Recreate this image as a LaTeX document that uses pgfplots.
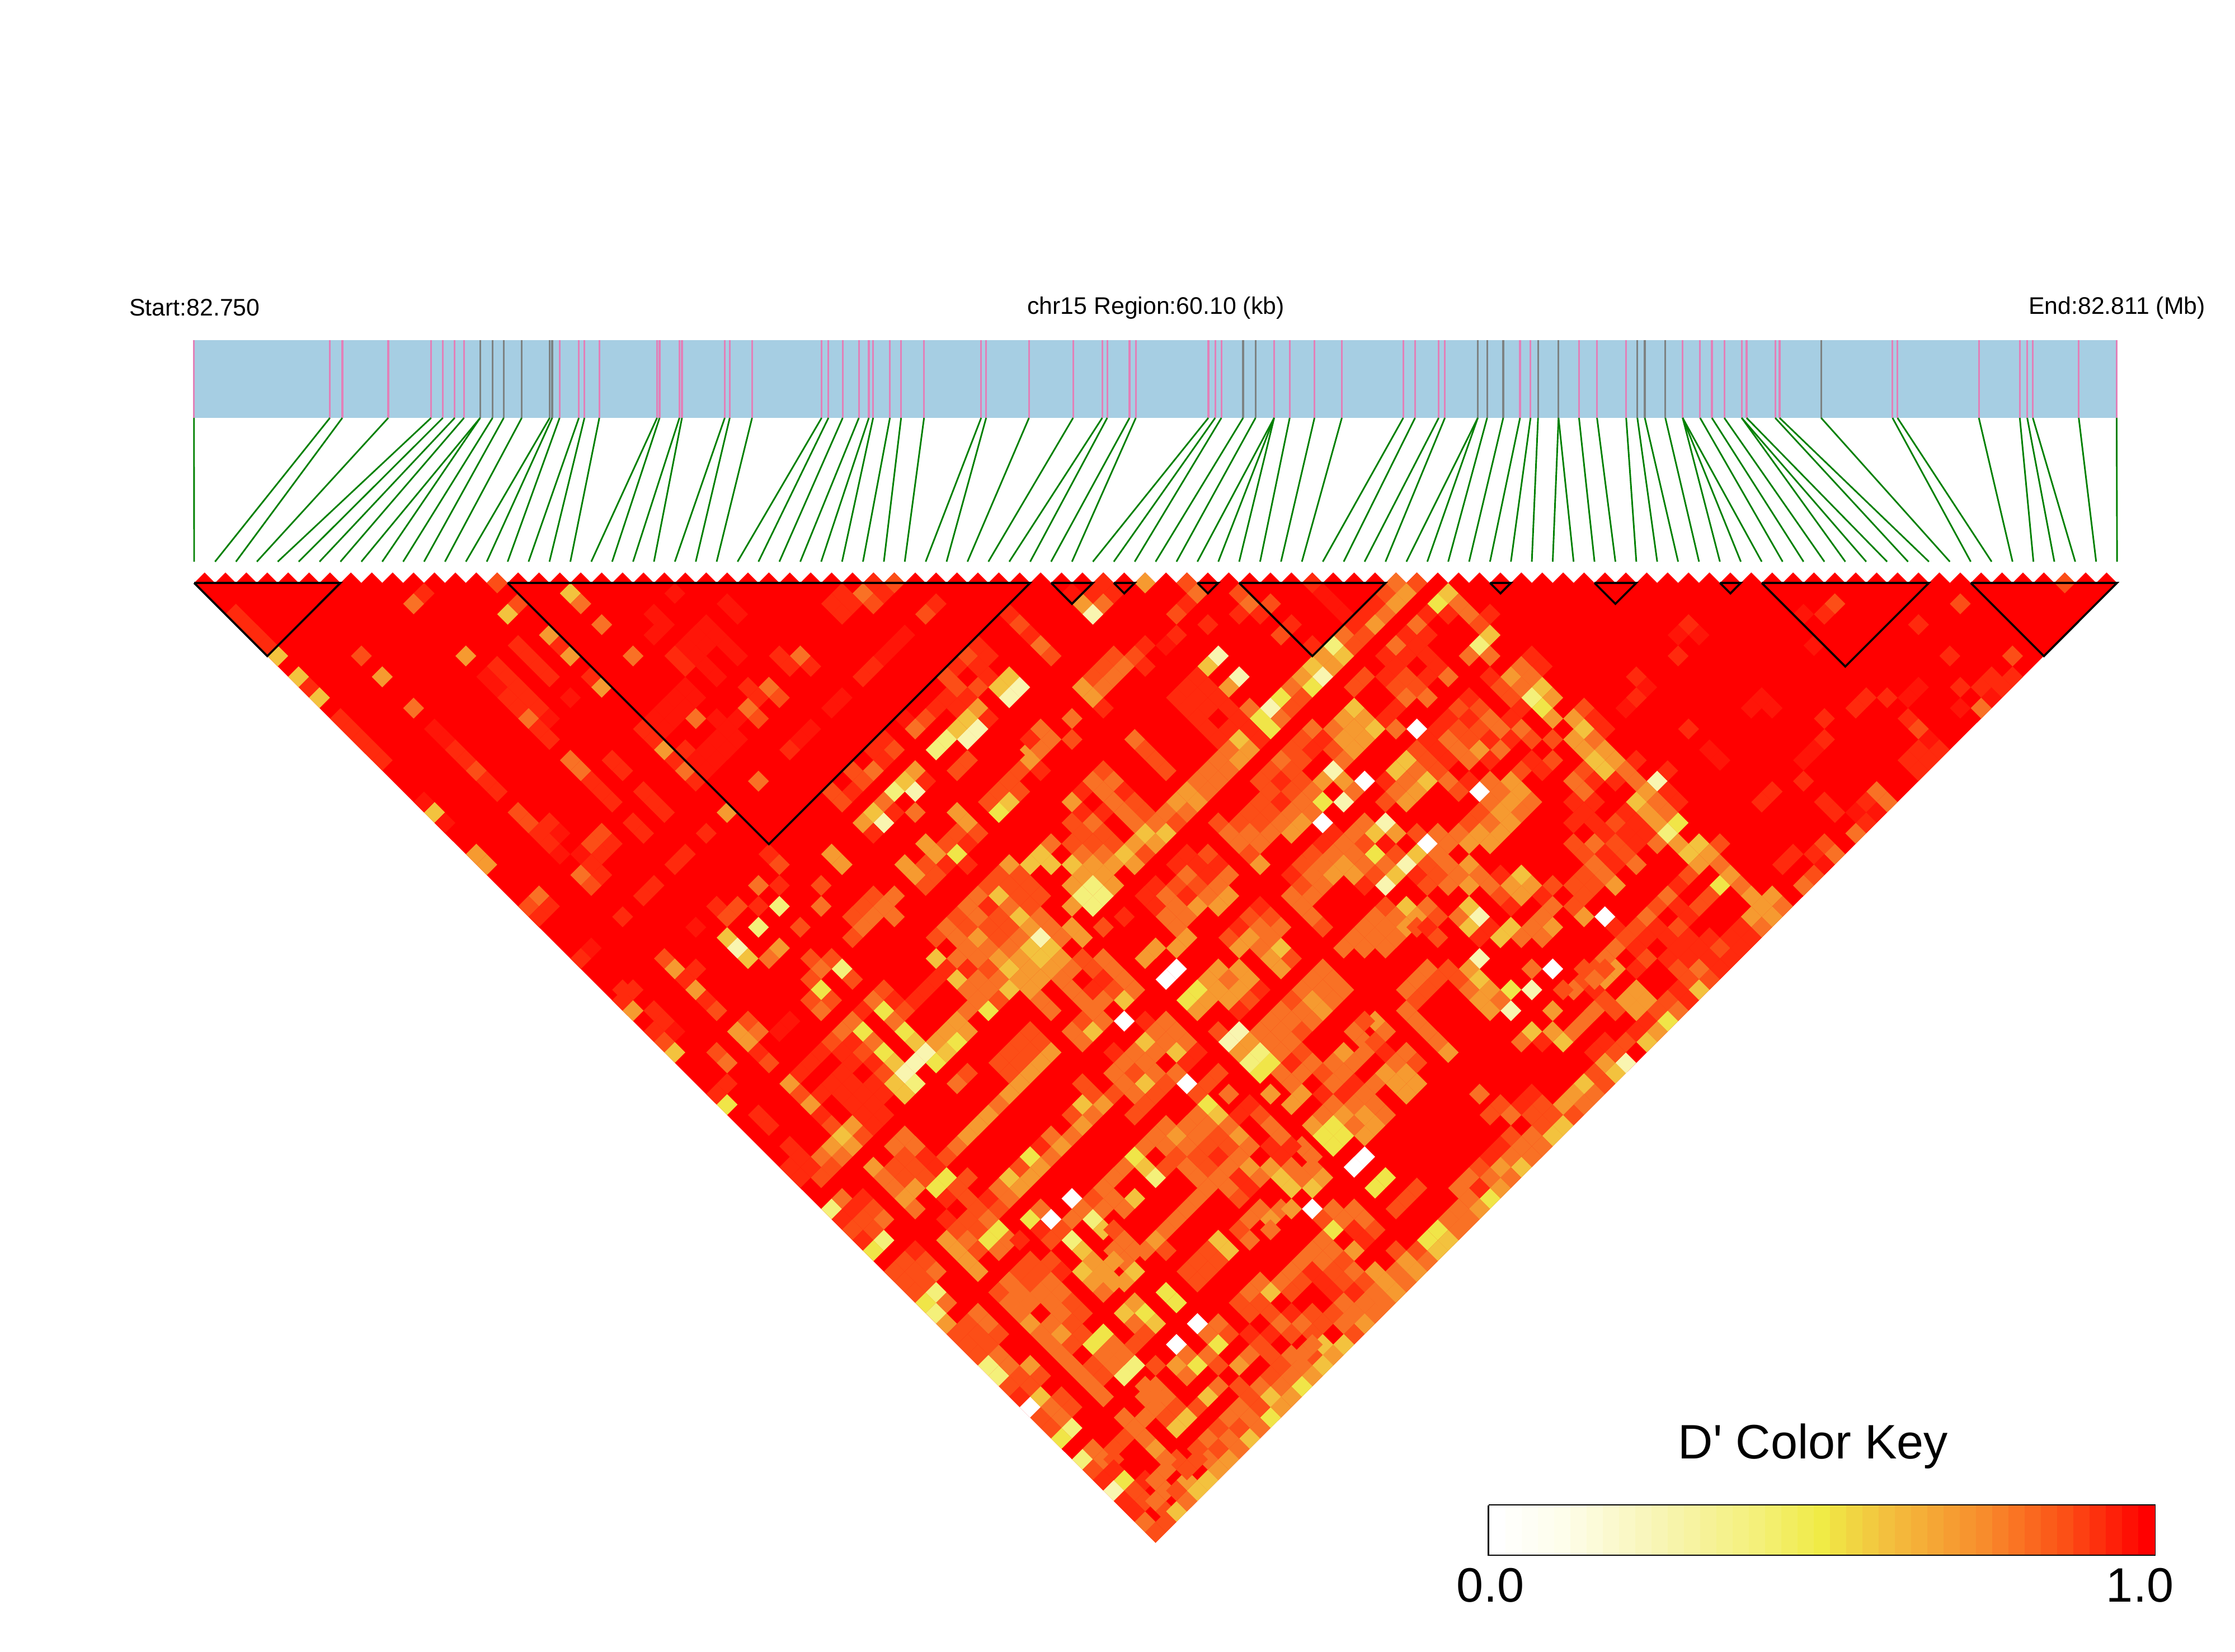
\documentclass[border=0pt]{standalone}
\usepackage{fontspec}
\setmainfont{Liberation Sans}
\usepackage{pgfplots}
\usepackage{pgfplotstable}
\pgfplotsset{compat=1.18}
\pgfdeclareplotmark{ldcell}{\pgfpathmoveto{\pgfqpoint{4.67pt}{0pt}}\pgfpathlineto{\pgfqpoint{0pt}{4.67pt}}\pgfpathlineto{\pgfqpoint{-4.67pt}{0pt}}\pgfpathlineto{\pgfqpoint{0pt}{-4.67pt}}\pgfpathclose\pgfusepathqfill}
\pgfdeclareplotmark{keycell}{\pgfpathrectangle{\pgfqpoint{-3.68pt}{-10.9pt}}{\pgfqpoint{7.36pt}{21.8pt}}\pgfusepathqfill}
\pgfplotstableread{
t k
346.7 0
589.7 1
611.9 2
694 3
770.6 4
791.7 5
812.8 6
829.4 7
858.3 8
858.3 9
880.4 10
900.4 11
932.6 12
982.6 13
987 14
1000.3 15
1034.7 16
1044.7 17
1071.3 18
1174.5 19
1179 20
1214.5 21
1219 22
1295.5 23
1304.4 24
1344.3 25
1468.6 26
1480.8 27
1506.3 28
1535.2 29
1553 30
1560.7 31
1590.7 32
1610.7 33
1651.7 34
1753.8 35
1762.7 36
1839.3 37
1918.1 38
1970.2 39
1979.1 40
2019 41
2030.2 42
2159.9 43
2172.1 44
2183.2 45
2222 46
2244.2 47
2277.5 48
2277.5 49
2277.5 50
2305.3 51
2349.6 52
2398.5 53
2508.3 54
2529.4 55
2571.6 56
2582.7 57
2641.5 58
2641.5 59
2658.2 60
2687 61
2717 62
2735.8 63
2749.2 64
2785.8 65
2785.8 66
2822.4 67
2854.6 68
2906.7 69
2926.7 70
2940 71
2976.7 72
3007.7 73
3007.7 74
3007.7 75
3038.8 76
3059.9 77
3082.1 78
3113.2 79
3113.2 80
3122 81
3173.1 82
3180.9 83
3255.2 84
3382.8 85
3391.7 86
3537.1 87
3610.3 88
3623.6 89
3633.6 90
3715.7 91
3783.4 92
}\snps
\pgfplotstableread{
t d
858.3 0
880.4 0
900.4 0
932.6 0
982.6 0
987 0
2222 0
2244.2 0
2641.5 0
2658.2 0
2687 0
2749.2 0
2785.8 0
2926.7 0
2940 0
2976.7 0
3255.2 0
}\greysnps
\pgfplotstableread{
U V c
29 0 2
65 0 1
67 0 2
91 0 4
95 0 2
107 0 1
115 0 3
117 0 2
179 0 2
22 1 1
21 2 3
31 2 2
30 3 5
36 1 5
37 2 3
39 4 3
34 5 4
35 6 1
36 7 4
31 6 1
32 7 1
33 8 1
34 9 1
4 3 1
5 4 1
6 5 1
7 6 1
8 7 5
10 9 5
11 10 1
12 11 5
16 7 2
18 9 4
26 7 4
21 12 3
14 13 1
15 14 1
16 15 1
17 16 1
18 17 1
23 22 5
24 23 0
22 21 0
27 26 4
28 27 4
29 8 1
28 9 0
30 9 1
29 10 0
31 10 1
30 11 1
32 11 1
31 12 1
33 12 1
32 13 3
34 13 0
33 14 1
34 15 1
36 11 0
38 9 1
39 10 4
23 14 0
24 15 0
25 16 1
26 17 1
27 18 2
28 19 1
29 20 1
31 22 2
32 23 2
34 23 1
33 24 1
35 24 0
34 25 1
35 26 0
36 17 3
37 18 3
38 19 1
39 20 1
40 21 1
40 17 1
41 18 1
39 24 2
38 25 2
40 25 1
39 26 1
37 26 0
38 27 1
39 28 1
37 28 3
38 29 2
33 30 3
32 31 2
34 31 1
33 32 1
41 32 1
38 35 0
37 36 1
41 39 1
62 1 1
64 1 3
66 1 1
61 2 1
63 2 1
65 2 2
62 3 1
71 2 1
70 3 2
46 1 0
51 2 0
52 3 0
44 3 0
45 4 0
44 5 0
49 4 0
48 5 0
50 5 0
47 6 0
49 6 0
51 6 0
46 7 1
48 7 0
52 7 0
47 8 1
49 8 0
50 9 0
47 10 0
46 11 0
48 11 0
45 12 0
47 12 0
44 13 0
46 13 0
45 14 0
42 7 3
58 7 3
56 7 1
57 8 1
59 8 1
68 5 0
67 6 0
66 7 0
65 8 1
64 9 1
55 10 3
53 10 1
54 11 1
56 11 2
53 12 3
54 13 2
62 11 0
61 12 0
48 13 3
50 13 0
52 13 0
43 14 1
44 15 1
45 16 4
47 18 3
46 17 1
48 19 1
51 14 0
50 15 0
52 15 0
47 16 1
49 16 0
51 16 0
48 17 0
50 17 0
49 18 0
59 14 0
58 15 0
57 16 1
54 19 3
51 22 4
78 3 1
79 4 2
80 5 1
81 6 3
82 7 2
75 6 1
74 7 2
76 7 1
73 8 1
75 8 1
72 9 2
76 9 1
73 10 2
75 10 2
78 9 5
77 10 5
79 10 8
78 11 8
72 11 1
71 12 1
74 11 1
75 12 4
73 12 1
74 13 5
76 13 1
70 13 2
68 13 0
69 14 3
73 14 5
75 14 8
72 15 7
74 15 8
71 16 7
66 15 1
67 16 2
65 16 1
66 17 1
65 18 3
63 18 2
64 19 2
69 18 4
68 19 5
70 19 1
67 20 7
69 20 8
61 20 2
62 21 2
63 20 1
74 17 2
73 18 2
66 21 3
65 22 5
64 23 4
66 23 8
67 22 1
69 22 3
65 24 1
80 16 4
81 14 3
80 15 1
82 15 3
81 16 3
80 17 4
81 18 1
79 18 2
78 19 2
77 20 2
79 20 2
78 21 5
77 22 6
76 21 2
73 22 4
74 23 4
73 24 2
75 24 2
74 25 1
72 25 2
70 25 4
71 26 4
73 26 6
72 27 1
74 27 1
68 27 4
69 28 4
70 27 2
71 28 2
70 29 2
82 25 3
81 26 5
80 27 5
82 27 5
78 27 4
77 28 2
79 28 2
78 29 2
67 30 3
65 30 2
66 31 3
67 32 3
64 31 2
65 32 3
63 32 2
64 33 3
63 34 2
61 26 4
62 27 4
55 26 1
56 27 2
54 29 3
60 29 2
56 29 1
60 31 3
56 31 7
54 33 7
58 33 2
52 31 2
51 32 2
54 31 1
50 31 1
51 34 5
52 35 8
56 35 4
43 20 1
44 21 1
45 22 1
42 23 1
43 24 1
49 24 1
47 26 1
46 27 1
44 29 1
43 30 1
48 33 0
86 1 1
85 2 4
87 2 3
86 3 8
84 1 0
88 1 1
87 0 1
95 2 1
96 1 3
94 3 2
97 4 1
94 5 1
93 6 0
91 6 1
90 7 2
91 8 1
88 7 2
87 8 2
89 8 3
88 9 3
86 9 2
85 10 4
87 10 3
86 11 4
87 12 1
98 7 8
97 8 5
100 9 8
99 10 4
96 9 1
95 10 1
97 10 1
94 11 1
96 11 1
98 11 1
95 12 1
97 12 1
99 12 1
96 13 1
100 13 1
97 14 1
99 14 1
98 15 1
100 1 2
101 2 3
103 2 2
100 3 1
102 3 1
105 4 1
104 5 2
107 6 1
108 1 0
109 2 0
110 3 0
114 1 2
116 1 4
115 2 4
114 3 3
113 2 1
112 3 1
113 4 4
111 4 1
112 5 2
110 5 3
109 6 7
111 6 2
110 7 5
108 7 4
107 8 5
109 8 4
108 9 8
106 9 4
105 10 3
107 10 6
106 11 2
104 11 6
103 12 8
105 12 2
101 12 3
102 13 6
104 13 3
103 14 6
102 15 1
101 14 1
100 15 5
101 16 4
99 16 3
98 17 3
100 17 4
97 18 3
99 18 3
96 19 3
98 19 3
95 20 4
97 20 3
94 21 4
96 21 4
93 22 3
95 22 3
92 23 3
94 23 2
91 24 5
93 24 5
92 25 4
90 25 4
89 26 5
91 26 2
90 27 4
120 1 5
119 2 6
121 2 3
118 3 1
120 3 1
122 3 3
124 3 1
117 4 3
123 4 2
124 5 5
123 6 7
122 7 3
124 7 3
116 5 1
115 6 3
116 7 1
114 7 1
115 8 1
118 5 1
117 6 1
118 7 1
119 8 1
120 9 3
118 9 1
116 9 2
114 9 1
115 10 2
117 10 2
116 11 3
118 11 3
112 9 2
111 10 2
115 12 1
114 13 1
111 12 5
110 13 4
112 13 4
109 14 3
111 14 4
113 14 5
110 15 4
112 15 4
115 14 3
117 14 9
107 14 3
106 15 2
108 15 1
105 16 2
107 16 1
109 16 2
111 16 4
104 17 3
106 17 2
110 17 3
103 18 2
105 18 2
109 18 8
102 19 2
104 19 1
106 19 2
108 19 4
110 19 4
112 19 9
103 20 2
105 20 2
107 20 3
111 20 3
102 21 2
104 21 1
106 21 3
108 21 6
110 21 8
101 22 2
103 22 2
105 22 3
107 22 3
100 23 2
102 23 2
104 23 3
106 23 4
108 23 9
98 23 2
99 24 3
101 24 3
103 24 3
105 24 4
100 25 3
102 25 3
101 26 2
102 27 4
116 17 5
115 18 5
117 18 3
116 19 3
118 19 5
114 19 1
117 20 4
115 20 3
116 21 4
114 21 2
120 19 3
119 18 2
118 17 2
117 16 2
119 16 1
118 15 1
120 15 3
121 16 3
120 17 1
122 17 3
123 16 4
121 14 2
122 15 2
124 15 1
120 13 1
119 14 1
122 13 1
123 14 2
125 14 3
124 17 1
126 15 1
125 16 3
127 14 3
126 13 1
124 13 3
123 12 2
122 11 1
121 12 2
125 10 2
126 11 2
124 9 1
127 12 1
126 9 4
127 8 3
128 7 1
129 8 1
128 9 3
127 10 3
129 10 5
128 11 7
130 11 4
129 12 6
130 13 4
123 20 9
122 19 1
121 20 2
125 20 3
124 19 3
126 19 4
127 18 2
129 18 1
128 17 1
130 17 2
128 15 2
130 15 2
127 20 4
128 21 3
126 21 4
124 21 3
125 22 4
123 22 2
127 22 3
122 23 2
124 23 3
126 23 4
121 24 3
123 24 4
125 24 4
122 25 4
124 25 4
120 25 3
119 24 3
117 24 2
118 25 9
117 26 5
116 27 8
115 28 5
114 29 8
119 26 3
118 27 2
120 27 3
122 27 4
119 28 2
117 28 1
121 28 3
118 29 2
120 29 3
113 26 6
114 27 3
112 27 3
111 28 4
112 29 1
113 28 2
115 26 2
114 25 0
113 24 5
114 23 8
115 24 4
112 23 3
112 25 2
111 24 3
110 25 3
109 24 1
108 26 3
110 27 4
109 26 3
111 26 3
107 27 3
109 28 4
105 28 1
106 27 2
107 26 2
108 25 1
106 29 2
107 28 3
108 27 3
105 30 3
106 31 3
107 32 3
108 33 2
107 30 3
108 29 3
114 31 2
116 31 5
115 32 3
117 32 4
116 33 4
114 33 3
113 32 3
112 33 3
111 34 3
110 35 3
113 34 3
115 34 3
114 35 3
112 35 3
118 31 3
119 32 2
117 33 2
118 33 1
119 34 2
121 32 3
122 31 5
123 32 8
122 33 5
124 33 1
123 34 1
125 34 5
126 33 5
127 34 3
128 33 3
126 31 1
125 30 2
124 29 3
122 29 4
123 28 3
125 28 1
127 28 5
128 29 4
126 29 4
127 30 4
129 30 1
130 29 2
130 31 3
130 33 4
129 32 3
129 34 3
87 18 2
86 19 3
88 19 3
85 20 1
87 20 3
89 20 1
84 21 4
88 21 3
90 21 2
85 22 1
87 22 1
89 22 3
91 22 2
84 23 2
86 23 3
90 23 3
85 24 2
87 24 2
84 25 2
86 25 2
88 25 2
85 26 3
87 26 3
84 27 5
86 27 4
88 27 4
85 28 4
87 28 4
84 29 4
86 29 7
88 29 4
85 30 7
87 30 7
86 31 7
84 31 4
84 33 4
85 34 4
90 15 3
91 16 2
92 17 2
93 18 2
84 13 3
84 15 2
95 26 1
97 26 2
94 27 1
96 27 1
98 27 1
95 28 3
97 28 1
99 28 3
94 29 2
96 29 2
98 29 3
93 30 3
95 30 1
97 30 3
99 30 4
96 31 4
98 31 4
92 29 1
91 30 1
92 31 1
89 32 1
87 33 2
94 31 3
95 32 3
94 33 3
93 32 3
95 34 4
94 35 4
92 35 5
102 31 1
103 32 2
101 32 2
104 33 3
102 33 3
100 33 1
101 34 4
103 34 3
99 34 2
100 35 4
104 35 5
102 35 3
157 2 2
156 3 1
154 3 0
169 2 2
165 4 1
143 4 1
142 5 0
144 5 0
142 7 1
155 6 0
168 7 1
138 9 1
139 10 0
138 11 1
137 12 0
150 11 0
149 12 0
151 12 0
160 11 1
159 12 1
162 11 1
164 11 0
165 10 0
169 10 1
171 10 1
172 9 1
172 11 0
173 10 1
174 7 2
174 9 1
171 12 3
169 12 0
156 13 1
156 15 1
155 16 0
154 17 0
143 14 1
145 16 0
146 17 0
154 19 1
151 20 1
150 21 1
164 13 1
165 14 2
166 15 0
167 16 1
165 16 1
164 17 1
166 17 1
165 18 1
156 21 1
157 22 1
161 20 3
160 21 1
162 21 3
159 22 0
161 22 0
160 23 1
159 24 3
156 25 2
155 26 1
157 26 3
153 26 1
152 27 1
156 27 0
155 28 2
154 29 3
133 12 2
132 13 4
134 13 1
133 14 5
135 14 1
132 15 4
134 15 3
133 16 4
135 16 4
134 17 5
136 17 4
138 17 1
135 18 5
137 18 3
133 18 2
132 19 3
134 19 1
136 19 1
138 19 3
140 19 8
141 18 1
133 20 3
139 20 4
141 20 1
138 21 5
140 21 3
142 21 1
132 21 1
134 21 1
139 22 4
141 22 3
137 22 1
133 22 1
136 23 2
138 23 1
140 23 4
142 23 6
132 23 1
134 23 1
135 24 1
137 24 1
139 24 1
141 24 7
134 25 3
136 25 2
138 25 1
140 25 3
142 25 4
144 25 5
146 25 2
132 25 2
133 26 2
135 26 1
137 26 2
143 26 5
145 26 4
134 27 3
136 27 1
138 27 3
144 27 4
146 27 3
133 28 2
135 28 3
143 28 2
132 29 2
134 29 2
136 29 4
142 29 1
146 29 6
147 28 4
148 29 3
141 30 3
145 30 2
149 30 4
151 30 4
133 30 2
140 31 2
142 31 1
144 31 2
150 31 4
152 31 3
132 31 2
139 32 3
143 32 1
149 32 4
151 32 4
133 32 4
135 32 9
138 33 2
140 33 1
142 33 2
148 33 1
150 33 3
136 33 1
137 34 2
139 34 1
141 34 1
143 34 1
145 34 1
147 34 1
149 34 1
136 35 3
138 35 1
142 35 1
144 35 1
146 35 2
148 35 1
135 36 3
139 36 2
141 36 1
143 36 1
145 36 1
147 36 1
134 37 2
136 37 4
138 37 1
142 37 2
144 37 3
146 37 1
133 38 2
135 38 4
143 38 2
145 38 2
132 39 3
134 39 1
138 39 4
142 39 1
144 39 5
137 40 3
139 40 4
141 40 2
143 40 1
134 41 3
136 41 1
138 41 4
140 41 2
142 41 3
141 42 6
139 42 1
130 37 9
123 36 8
122 37 4
123 38 5
124 39 4
126 39 6
128 39 8
126 41 8
124 41 4
125 40 3
122 39 3
128 37 3
128 43 5
127 44 3
129 44 1
130 41 4
131 44 5
130 43 4
132 43 3
133 42 3
134 41 3
135 40 2
132 39 3
134 38 3
135 37 2
133 37 2
131 39 2
137 40 4
138 41 4
139 40 4
138 39 4
136 41 2
140 43 4
139 44 5
137 44 2
138 43 1
137 46 8
136 47 5
135 46 4
134 45 1
135 48 2
134 47 2
134 49 3
133 48 5
132 49 4
133 50 3
132 51 2
131 50 4
136 45 2
135 44 1
129 50 2
130 51 2
129 52 2
128 51 2
127 50 1
128 49 1
131 52 5
130 53 5
129 54 3
128 55 3
127 56 5
126 57 3
128 53 3
127 54 3
126 55 3
125 56 4
124 57 3
125 58 4
124 59 6
123 60 4
122 61 3
126 53 2
125 54 1
124 55 1
123 56 2
122 57 3
121 58 3
123 58 1
122 59 3
121 60 3
124 51 2
123 49 3
125 50 2
126 51 3
119 62 6
118 63 6
119 64 5
120 63 5
121 62 3
120 61 3
117 64 2
118 65 2
117 66 4
116 65 3
116 67 3
115 66 4
114 67 5
115 68 2
114 69 4
113 68 3
112 69 3
113 70 3
112 71 4
111 70 3
110 71 3
111 72 2
110 73 5
108 73 5
109 74 4
108 75 5
107 76 4
106 77 6
105 78 4
106 75 2
105 76 2
107 74 2
105 72 2
104 79 4
103 80 6
102 81 3
101 82 5
100 83 3
99 84 4
98 85 4
104 77 3
103 78 3
102 79 2
101 80 3
100 81 2
99 82 3
98 83 2
97 84 3
103 76 2
102 77 3
101 78 2
100 79 3
99 80 3
98 81 2
97 82 3
96 83 2
91 36 4
92 35 4
94 37 9
93 38 9
84 37 3
85 36 2
87 36 3
88 37 3
89 38 3
90 39 3
86 37 2
87 38 1
84 39 3
85 40 3
86 39 1
88 39 2
87 40 3
89 40 5
86 41 3
85 42 2
87 42 3
86 43 5
84 43 3
85 44 3
89 42 9
91 42 1
93 42 3
92 43 3
94 43 3
91 44 5
93 44 3
95 44 3
90 45 3
92 45 3
94 45 5
96 45 1
88 45 1
89 46 3
91 46 3
95 46 1
88 47 3
90 47 2
92 47 3
94 47 3
89 48 3
91 48 5
93 48 2
95 48 9
97 48 2
98 47 2
90 49 3
92 49 2
96 49 2
97 50 6
98 51 5
99 49 3
85 48 2
86 49 2
85 50 5
84 51 2
86 51 3
87 50 4
88 49 2
90 51 2
91 50 2
85 52 4
84 53 3
95 40 6
96 39 6
97 40 4
96 41 4
98 39 4
97 38 4
98 37 4
99 38 3
99 40 4
100 39 4
101 40 2
102 39 1
100 41 1
100 37 4
101 38 4
103 36 4
104 37 4
105 36 2
98 43 2
99 44 8
100 43 8
101 46 7
102 45 7
102 47 6
103 46 6
100 45 4
101 44 4
103 44 3
104 45 3
102 43 3
104 43 3
105 44 3
103 42 3
105 42 3
106 43 2
104 41 3
106 41 3
107 40 4
108 41 4
106 39 3
105 40 2
107 38 3
108 37 3
109 38 3
110 39 3
109 40 3
108 39 3
107 42 3
104 47 3
105 48 3
103 49 4
106 49 4
105 50 4
106 47 3
107 46 3
106 45 2
105 46 1
108 47 2
109 46 3
110 45 4
111 46 3
110 47 3
109 48 3
112 45 3
108 49 1
110 49 1
111 48 1
113 48 3
112 49 3
111 50 3
110 51 4
112 51 4
113 50 3
114 51 3
113 52 4
112 53 4
111 52 3
109 52 6
108 53 6
110 53 6
109 54 6
107 52 4
108 51 3
109 50 3
111 43 3
112 44 3
113 42 4
114 43 3
112 42 2
113 44 2
114 45 1
116 45 3
115 46 3
116 47 4
114 47 4
117 46 2
115 48 4
117 48 4
116 49 4
116 39 3
117 38 3
118 37 3
117 40 2
116 41 3
118 39 2
119 38 2
120 37 2
118 43 3
119 44 3
120 45 4
117 42 3
123 40 4
121 38 2
111 56 9
112 55 9
114 57 6
113 58 6
107 60 9
84 59 9
86 61 7
87 62 5
84 63 7
85 64 5
85 66 5
86 67 4
90 55 6
91 56 5
92 57 7
89 56 3
88 57 3
90 59 5
89 60 3
88 59 3
87 58 3
86 59 2
87 60 3
85 60 3
84 61 3
94 53 4
93 54 3
95 54 3
93 52 3
95 52 3
96 53 3
94 55 2
92 53 3
91 54 3
93 56 2
95 56 3
96 55 2
97 54 2
98 55 1
97 56 2
96 57 3
98 57 3
97 58 3
99 56 3
100 57 1
101 58 1
99 58 3
100 59 2
99 52 3
100 53 4
101 54 3
100 55 3
101 56 4
102 57 3
103 56 4
104 57 5
105 58 5
107 58 5
103 54 1
104 55 1
106 54 3
107 55 3
105 56 3
106 57 3
108 57 4
107 56 3
105 54 1
98 53 2
97 52 3
96 51 3
99 54 2
100 51 1
101 50 1
102 51 2
103 52 3
104 53 3
102 60 3
101 61 3
104 60 3
103 61 4
105 60 4
103 62 3
101 63 3
100 62 2
98 63 5
99 64 5
98 65 2
97 64 2
96 65 2
96 67 2
95 66 2
97 66 2
94 61 3
93 62 3
95 60 3
96 59 3
92 63 4
91 64 3
93 64 2
89 63 3
88 62 2
88 64 3
89 65 3
90 64 3
90 66 5
89 67 4
87 66 4
88 67 4
86 65 3
87 68 3
109 62 6
108 61 2
110 61 3
111 60 3
109 60 3
112 61 3
111 62 1
113 62 2
112 63 1
109 64 3
111 64 4
108 63 3
107 64 3
110 65 2
106 65 3
105 66 3
107 66 1
108 65 3
109 66 2
111 66 3
104 67 3
106 67 2
108 67 1
110 67 2
112 67 2
103 68 5
105 68 2
109 68 1
111 68 1
113 68 3
114 67 4
113 66 4
115 66 3
114 69 3
115 68 4
116 67 3
117 66 4
118 65 3
116 65 4
115 64 2
115 60 2
116 59 2
117 58 2
121 58 3
120 61 3
123 60 4
122 61 3
102 67 3
101 68 3
100 69 2
101 70 2
102 69 2
103 70 2
105 70 1
104 71 3
106 71 3
107 70 2
108 71 2
109 70 2
110 69 3
111 70 3
110 71 3
107 72 2
105 72 2
103 72 1
101 72 1
99 72 2
98 71 3
98 73 6
97 72 3
96 71 9
94 73 9
96 75 6
95 74 3
94 75 4
95 76 3
92 75 2
108 73 5
110 73 5
109 74 4
108 75 5
107 76 4
106 77 6
105 76 3
106 74 3
107 73 3
105 74 3
104 75 2
106 75 3
103 74 2
102 73 2
101 74 3
100 75 4
98 75 2
98 77 3
97 78 5
103 78 5
100 77 2
89 70 5
90 69 4
91 70 6
92 71 5
93 68 6
94 69 6
90 71 3
91 72 2
87 72 6
86 73 6
87 74 3
88 73 3
89 76 7
90 75 7
88 75 3
91 77 3
92 78 3
84 75 3
85 76 3
86 77 3
87 78 3
45 36 2
46 37 4
47 38 1
48 39 4
49 40 1
50 41 2
48 37 1
42 39 1
41 40 1
42 41 4
44 41 1
45 42 1
44 43 1
46 43 0
45 44 2
46 45 5
52 35 8
53 36 5
55 36 3
52 43 4
53 42 2
54 43 3
53 44 4
54 45 1
55 46 2
57 42 0
56 43 0
50 45 2
51 46 3
51 48 1
50 49 1
51 50 6
57 48 4
58 47 1
58 49 2
59 50 4
60 51 1
61 52 2
62 53 5
63 52 4
64 53 2
61 54 4
63 54 4
60 55 3
62 55 3
61 56 2
60 57 2
59 56 1
58 57 1
54 51 1
55 52 1
57 54 1
58 55 1
57 56 1
61 60 7
62 59 3
63 60 1
64 59 1
65 60 2
66 61 3
64 61 2
62 61 1
63 62 2
65 62 2
64 63 1
66 63 7
65 64 6
65 56 4
66 57 3
67 58 3
68 59 4
69 60 3
68 57 2
69 58 4
67 56 2
67 54 3
68 53 3
68 55 2
69 54 3
69 56 2
70 57 2
71 56 1
70 55 1
71 58 6
72 57 6
74 57 2
72 59 1
73 58 2
72 61 1
73 62 2
74 61 2
75 60 2
74 59 2
75 62 2
76 61 3
77 60 2
76 59 1
78 59 3
77 58 3
78 57 5
79 58 4
80 57 4
79 56 2
80 55 6
81 56 4
82 55 3
81 54 1
82 53 3
83 54 4
76 63 6
77 62 6
78 63 3
77 64 3
72 63 4
73 64 4
74 63 3
74 65 4
75 66 4
75 64 2
79 63 1
80 61 6
81 60 3
82 61 9
81 62 1
82 63 2
83 62 2
69 64 1
68 65 2
70 65 2
67 66 2
69 66 2
71 66 3
68 67 2
70 67 2
69 68 2
71 68 7
70 69 6
72 69 3
71 70 7
72 71 4
73 72 2
74 71 2
75 70 3
76 71 3
75 72 2
74 73 2
76 73 2
75 74 2
77 72 2
77 74 3
76 75 7
77 76 7
78 75 3
79 76 2
80 75 4
81 76 2
78 77 2
80 77 2
81 78 5
78 67 4
77 68 3
79 68 3
78 69 4
80 69 3
79 70 4
81 68 3
80 67 2
82 67 3
83 66 2
81 66 3
79 66 2
82 65 2
80 65 2
83 68 3
82 69 3
80 71 4
81 72 3
82 73 3
83 74 3
82 71 3
83 72 3
59 36 2
60 37 3
61 36 2
62 37 7
63 38 2
59 38 2
60 39 6
61 40 2
59 40 2
60 41 3
62 43 3
63 42 3
61 44 2
64 43 6
65 44 3
66 45 6
67 46 5
68 47 8
69 48 7
68 49 5
67 48 5
69 46 8
70 45 8
71 46 6
69 44 5
68 43 6
67 42 3
66 41 6
65 40 3
66 39 2
67 40 1
68 41 2
64 41 1
71 44 4
72 45 5
73 44 6
72 43 4
74 43 4
73 42 4
76 41 6
75 40 3
74 41 3
76 39 3
77 40 2
77 38 3
78 37 5
79 38 4
78 39 5
80 39 4
80 37 4
81 38 4
73 38 5
74 39 3
71 36 5
73 48 3
74 47 2
82 45 4
81 46 4
80 47 4
79 48 4
78 49 4
77 50 3
76 51 4
75 52 4
74 53 4
73 54 3
72 55 2
80 43 2
79 44 2
78 45 2
77 46 2
81 44 2
80 45 2
79 46 2
78 47 2
81 40 3
82 41 3
60 45 1
59 46 1
62 45 1
63 46 1
61 48 1
62 47 1
60 49 1
63 48 1
62 49 1
65 46 1
66 47 2
65 48 1
64 49 1
63 50 1
66 49 1
65 50 1
64 51 1
66 51 1
65 52 1
64 45 2
63 44 1
78 69 3
79 70 3
80 71 4
81 72 3
82 73 3
83 74 3
84 75 3
85 76 3
86 77 3
87 78 3
83 72 4
77 68 2
78 67 3
79 68 3
80 69 3
81 68 3
82 69 3
83 70 3
80 67 2
81 66 2
83 66 1
84 69 2
85 70 2
84 71 2
85 72 2
84 73 2
86 73 6
87 72 6
87 74 3
88 73 3
86 75 2
88 75 3
87 76 2
89 76 7
90 75 7
89 74 3
90 73 2
92 75 2
79 78 1
80 79 9
82 79 3
83 78 2
84 79 2
81 80 2
83 80 3
82 81 2
84 81 7
83 82 6
86 83 3
85 84 7
87 84 3
86 85 2
88 84 2
87 86 1
89 86 6
88 87 8
88 85 1
90 87 2
91 86 1
89 88 1
91 88 2
90 89 1
92 88 3
93 87 3
91 90 3
93 89 2
94 89 5
92 91 2
93 90 2
95 88 3
96 87 5
95 86 4
97 86 5
94 87 2
92 86 3
93 85 3
94 84 2
95 85 2
96 84 2
89 80 3
90 81 3
91 78 3
92 77 3
92 79 3
93 78 3
93 80 2
94 79 2
95 80 5
94 81 5
96 79 2
97 78 5
91 80 3
89 82 2
88 83 2
91 82 3
92 83 4
93 84 3
86 65 4
88 65 4
87 66 4
86 67 4
88 67 4
94 73 9
96 71 9
96 75 6
95 74 3
95 76 3
97 74 3
76 29 2
80 29 2
75 30 3
77 30 5
79 30 2
81 30 2
74 31 3
76 31 1
78 31 3
80 31 2
73 32 2
75 32 3
77 32 2
79 32 5
81 32 3
72 33 3
74 33 2
76 33 2
78 33 2
80 33 4
82 33 3
71 34 2
73 34 3
75 34 4
77 34 2
79 34 3
81 34 8
83 34 3
74 35 3
76 35 3
78 35 3
80 35 5
82 35 5
73 36 3
75 36 3
77 36 4
79 36 4
81 36 5
83 36 4
74 37 1
76 37 2
82 37 4
75 38 3
83 38 3
70 39 1
71 38 1
72 37 1
69 40 1
}\cells
\begin{document}
\begin{tikzpicture}
\useasboundingbox (0,0) rectangle (998.75pt,738.25pt);
\begin{axis}[at={(0,0)},anchor=south west,scale only axis,width=998.75pt,height=738.25pt,
  xmin=-18.5760,xmax=195.2891,ymin=-55.8713,ymax=102.4665,y dir=reverse,hide axis,clip=false,
  colormap={ld}{rgb255=(255,21,8) rgb255=(255,42,13) rgb255=(252,78,23) rgb255=(249,113,37) rgb255=(246,154,48) rgb255=(243,194,62) rgb255=(240,229,72) rgb255=(244,240,122) rgb255=(249,245,176) rgb255=(255,255,255)},
  point meta min=0,point meta max=9]
\addplot[fill=red,draw=none,forget plot] coordinates {(0,0)(184,0)(92,92)};
\addplot[only marks,mark=ldcell,mark options={fill=red,draw=none},forget plot] coordinates {(1,0)(3,0)(5,0)(7,0)(9,0)(11,0)(13,0)(15,0)(17,0)(19,0)(21,0)(23,0)(25,0)(27,0)(29,0)(31,0)(33,0)(35,0)(37,0)(39,0)(41,0)(43,0)(45,0)(47,0)(49,0)(51,0)(53,0)(55,0)(57,0)(59,0)(61,0)(63,0)(65,0)(67,0)(69,0)(71,0)(73,0)(75,0)(77,0)(79,0)(81,0)(83,0)(85,0)(87,0)(89,0)(91,0)(93,0)(95,0)(97,0)(99,0)(101,0)(103,0)(105,0)(107,0)(109,0)(111,0)(113,0)(115,0)(117,0)(119,0)(121,0)(123,0)(125,0)(127,0)(129,0)(131,0)(133,0)(135,0)(137,0)(139,0)(141,0)(143,0)(145,0)(147,0)(149,0)(151,0)(153,0)(155,0)(157,0)(159,0)(161,0)(163,0)(165,0)(167,0)(169,0)(171,0)(173,0)(175,0)(177,0)(179,0)(181,0)(183,0)};
\addplot[scatter,only marks,mark=ldcell,scatter src=explicit,scatter/use mapped color={fill=mapped color,draw=none}] table[x=U,y=V,meta=c] {\cells};
\end{axis}
\begin{axis}[at={(0,0)},anchor=south west,scale only axis,width=998.75pt,height=738.25pt,
  xmin=0,xmax=3995,ymin=0,ymax=2953,y dir=reverse,hide axis,clip=false,
  colormap={key}{rgb255(0)=(255,255,255) rgb255(4)=(254,254,235) rgb255(10)=(248,245,180) rgb255(16)=(244,240,122) rgb255(20)=(240,235,70) rgb255(24)=(243,192,62) rgb255(30)=(248,140,44) rgb255(35)=(252,80,22) rgb255(40)=(255,0,0)},
  point meta min=0,point meta max=40]
\addplot[fill={rgb,255:red,166;green,206;blue,227},draw=none] coordinates {(347,608)(3784,608)(3784,747)(347,747)};
\addplot[quiver={u=0,v=-139},draw={rgb,255:red,226;green,128;blue,184},line width=0.8pt] table[x=t,y expr=747] {\snps};
\addplot[quiver={u=0,v=-139},draw={rgb,255:red,125;green,130;blue,130},line width=0.8pt] table[x=t,y expr=747] {\greysnps};
\addplot[quiver={u=347+37.36*\thisrow{k}-\thisrow{t},v=257},draw={rgb,255:red,0;green,128;blue,0},line width=0.72pt] table[x=t,y expr=747] {\snps};
\addplot[black,line width=0.9pt,line join=miter] coordinates {(347,1042)(608.5,1042)(477.8,1172.8)(347,1042)};
\addplot[black,line width=0.9pt] coordinates {(907.4,1042)(1841.4,1042)(1374.4,1509)(907.4,1042)};
\addplot[black,line width=0.9pt] coordinates {(1878.8,1042)(1953.5,1042)(1916.1,1079.4)(1878.8,1042)};
\addplot[black,line width=0.9pt] coordinates {(1990.8,1042)(2028.2,1042)(2009.5,1060.7)(1990.8,1042)};
\addplot[black,line width=0.9pt] coordinates {(2140.3,1042)(2177.6,1042)(2159,1060.7)(2140.3,1042)};
\addplot[black,line width=0.9pt] coordinates {(2215,1042)(2476.5,1042)(2345.8,1172.8)(2215,1042)};
\addplot[black,line width=0.9pt] coordinates {(2663.3,1042)(2700.7,1042)(2682,1060.7)(2663.3,1042)};
\addplot[black,line width=0.9pt] coordinates {(2850.1,1042)(2924.8,1042)(2887.5,1079.4)(2850.1,1042)};
\addplot[black,line width=0.9pt] coordinates {(3074.3,1042)(3111.6,1042)(3093,1060.7)(3074.3,1042)};
\addplot[black,line width=0.9pt] coordinates {(3149,1042)(3447.9,1042)(3298.4,1191.4)(3149,1042)};
\addplot[black,line width=0.9pt] coordinates {(3522.6,1042)(3784.1,1042)(3653.4,1172.8)(3522.6,1042)};
\addplot[scatter,only marks,mark=keycell,scatter src=explicit,scatter/use mapped color={fill=mapped color,draw=none}] coordinates {(2677,2735)[0](2706,2735)[1](2735,2735)[2](2764,2735)[3](2793,2735)[4](2822,2735)[5](2851,2735)[6](2880,2735)[7](2909,2735)[8](2938,2735)[9](2967,2735)[10](2996,2735)[11](3025,2735)[12](3054,2735)[13](3083,2735)[14](3112,2735)[15](3141,2735)[16](3170,2735)[17](3199,2735)[18](3228,2735)[19](3257,2735)[20](3286,2735)[21](3315,2735)[22](3344,2735)[23](3373,2735)[24](3402,2735)[25](3431,2735)[26](3460,2735)[27](3489,2735)[28](3518,2735)[29](3547,2735)[30](3576,2735)[31](3605,2735)[32](3634,2735)[33](3663,2735)[34](3692,2735)[35](3721,2735)[36](3750,2735)[37](3779,2735)[38](3808,2735)[39](3837,2735)[40]};
\addplot[black,line width=0.8pt] coordinates {(2661,2691)(3851,2691)(3851,2779)(2661,2779)(2661,2691)};
\node[anchor=center,inner sep=0pt,font=\fontsize{10.7pt}{12pt}\selectfont] at (axis cs:348,550) {Start:82.750};
\node[anchor=center,inner sep=0pt,font=\fontsize{10.7pt}{12pt}\selectfont] at (axis cs:2066,550) {chr15 Region:60.10 (kb)};
\node[anchor=center,inner sep=0pt,font=\fontsize{10.7pt}{12pt}\selectfont] at (axis cs:3784,550) {End:82.811 (Mb)};
\node[anchor=center,inner sep=0pt,font=\fontsize{21.6pt}{24pt}\selectfont] at (axis cs:3241,2585) {D\textquotesingle{} Color Key};
\node[anchor=center,inner sep=0pt,font=\fontsize{21.6pt}{24pt}\selectfont] at (axis cs:2664,2834) {0.0};
\node[anchor=center,inner sep=0pt,font=\fontsize{21.6pt}{24pt}\selectfont] at (axis cs:3825,2834) {1.0};
\end{axis}
\end{tikzpicture}
\end{document}
